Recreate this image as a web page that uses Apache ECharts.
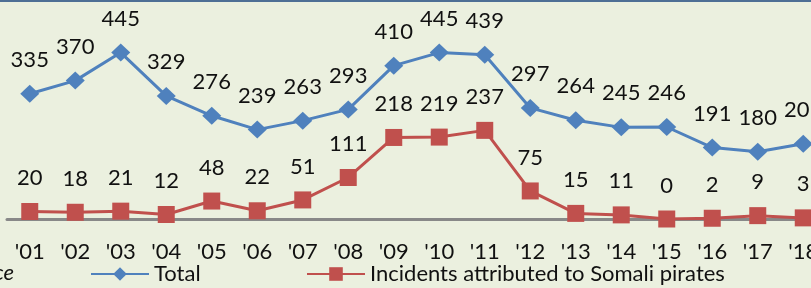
<!DOCTYPE html>
<html><head><meta charset="utf-8">
<script src="https://cdn.jsdelivr.net/npm/echarts@6/dist/echarts.min.js"></script>
<style>html,body{margin:0;padding:0;background:#EBF0DF;}#c{width:811px;height:288px;}</style>
</head><body><div id="c"></div>
<script>
const years = ["'01","'02","'03","'04","'05","'06","'07","'08","'09","'10","'11","'12","'13","'14","'15","'16","'17","'18"];
const totalIncidents = [335,370,445,329,276,239,263,293,410,445,439,297,264,245,246,191,180,201];
const somaliIncidents = [20,18,21,12,48,22,51,111,218,219,237,75,15,11,0,2,9,3];
const seriesNames = ["Total","Incidents attributed to Somali pirates"];

const FONT = 'Lato';
const FS = 22;
const chart = echarts.init(document.getElementById('c'));
const lbl = {show:true, position:'top', distance:13, color:'#111', fontFamily:FONT, fontSize:FS, lineHeight:24};
const legText = {color:'#111', fontFamily:FONT, fontSize:FS, lineHeight:24};
chart.setOption({
  backgroundColor:'#EBF0DF',
  animation:false,
  grid:{left:7, top:32, height:187, width:819, containLabel:false, outerBoundsMode:'none'},
  xAxis:{type:'category', data:years, boundaryGap:true,
    axisLine:{lineStyle:{color:'#888888', width:3}},
    axisTick:{show:false},
    axisLabel:{color:'#111', fontFamily:FONT, fontSize:FS, lineHeight:24, margin:21, interval:0}},
  yAxis:{type:'value', min:0, max:500, show:false, splitLine:{show:false}},
  legend:[
    {data:[seriesNames[0]], left:90, top:262, padding:0, itemWidth:58, itemHeight:17, itemGap:0, textStyle:legText},
    {data:[seriesNames[1]], left:306, top:262, padding:0, itemWidth:58, itemHeight:17, itemGap:0, textStyle:legText}
  ],
  graphic:[
    {type:'rect', shape:{x:0,y:0,width:811,height:2}, style:{fill:'#4E6F95'}},
    {type:'text', right:797, top:262, style:{text:'Source', fill:'#111', font:'italic 22px Lato', textAlign:'right'}}
  ],
  series:[
    {name:seriesNames[0], type:'line', data:totalIncidents, symbol:'diamond', symbolSize:[19,18],
     itemStyle:{color:'#4F81BD'}, lineStyle:{color:'#4F81BD', width:3}, label:lbl},
    {name:seriesNames[1], type:'line', data:somaliIncidents, symbol:'rect', symbolSize:17,
     itemStyle:{color:'#C0504D'}, lineStyle:{color:'#C0504D', width:3}, label:lbl}
  ]
});
</script></body></html>
